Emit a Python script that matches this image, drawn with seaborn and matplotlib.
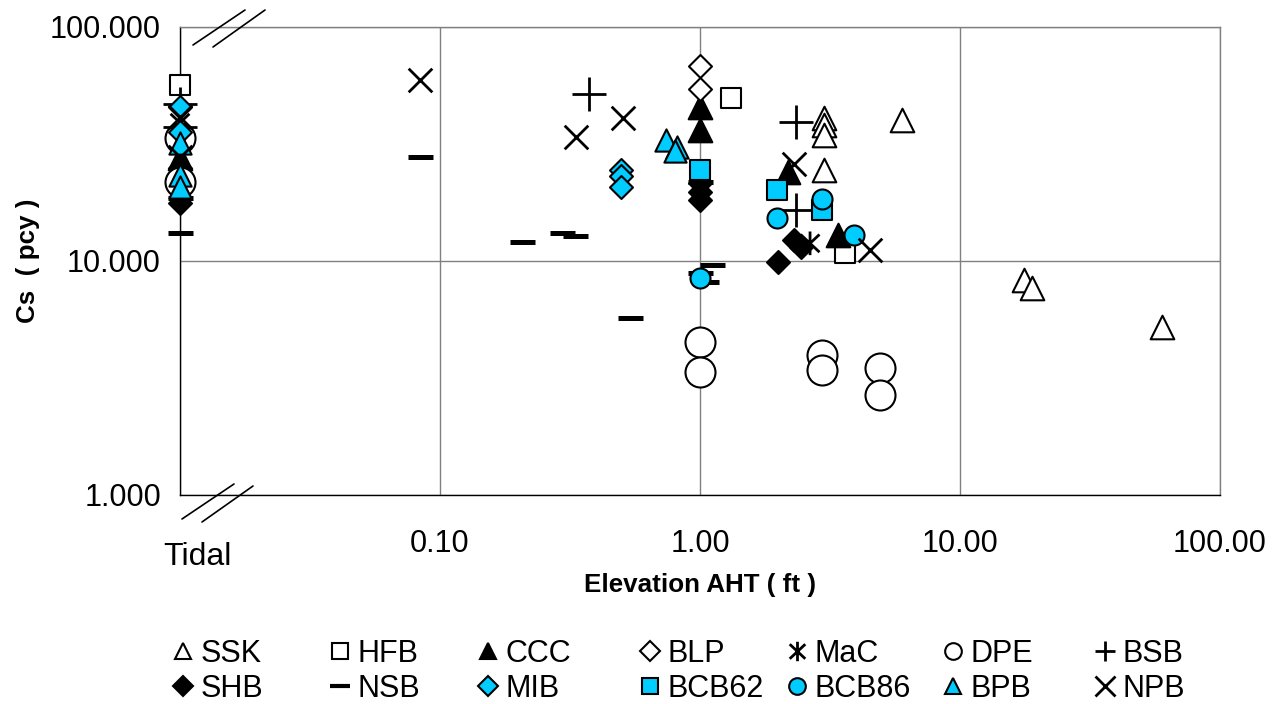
import matplotlib
matplotlib.use("Agg")
import matplotlib.pyplot as plt
import seaborn as sns
from matplotlib.lines import Line2D
from matplotlib.path import Path
from matplotlib.ticker import FixedLocator, LogLocator, NullFormatter

# tidal sites sit on the broken left edge of the axis
TIDAL = 0.01

# --- data (elevation above high tide in ft, Cs in pcy) ---
ssk_x = [3.0, 3.0, 3.0, 3.0, 6.0, 17.7, 18.9, 59.8]
ssk_y = [40.8, 38.1, 34.5, 24.5, 40.0, 8.3, 7.7, 5.2]
hfb_x = [TIDAL, 1.32, 3.6]
hfb_y = [56.5, 49.7, 10.8]
ccc_x = [TIDAL, 1.0, 1.0, 2.18, 3.4]
ccc_y = [27.5, 45.5, 36.3, 24.0, 12.9]
blp_x = [1.0, 1.0]
blp_y = [68.1, 54.3]
mac_x = [TIDAL, 2.65]
mac_y = [39.0, 11.9]
dpe_x = [TIDAL, TIDAL, 1.0, 1.0, 2.95, 2.95, 4.94, 4.94]
dpe_y = [33.6, 21.8, 4.5, 3.36, 3.97, 3.42, 3.49, 2.68]
bsb_x = [TIDAL, TIDAL, 0.373, 2.34, 2.34]
bsb_y = [46.9, 37.2, 51.7, 39.3, 16.5]
shb_x = [TIDAL, 1.0, 1.0, 1.0, 2.0, 2.3, 2.45]
shb_y = [17.7, 21.5, 19.8, 18.2, 9.9, 12.3, 11.5]
nsb_x = [TIDAL, TIDAL, 0.0834, 0.206, 0.294, 0.33, 0.537, 1.0, 1.11, 1.0, 1.05]
nsb_y = [13.2, 18.6, 27.8, 12.1, 13.2, 12.8, 5.71, 21.8, 9.6, 8.9, 8.1]
mib_x = [TIDAL, TIDAL, 0.496, 0.496, 0.496]
mib_y = [45.5, 35.5, 24.5, 23.1, 20.7]
bcb62_x = [1.0, 1.98, 2.95]
bcb62_y = [24.5, 20.1, 16.5]
bcb86_x = [1.0, 1.98, 2.95, 3.92]
bcb86_y = [8.46, 15.3, 18.4, 12.9]
bpb_x = [TIDAL, TIDAL, TIDAL, 0.74, 0.815, 0.80]
bpb_y = [31.9, 23.3, 20.7, 32.9, 30.7, 29.5]
npb_x = [TIDAL, TIDAL, 0.0834, 0.333, 0.505, 2.30, 4.52]
npb_y = [41.3, 27.8, 59.4, 33.9, 40.8, 26.0, 11.1]

xticks = [0.01, 0.1, 1, 10, 100]
xtick_labels = ["", "0.10", "1.00", "10.00", "100.00"]
yticks = [1, 10, 100]
ytick_labels = ["1.000", "10.000", "100.000"]

CYAN = "#00CCFF"
# asterisk marker (x with a vertical bar)
asterisk = Path([(0, -1), (0, 1), (-0.8, -0.75), (0.8, 0.75), (-0.8, 0.75), (0.8, -0.75)],
                [Path.MOVETO, Path.LINETO] * 3)

# name, x, y, marker, size(pt), face, filled?, linewidth, legend size
series = [
    ("SSK", ssk_x, ssk_y, "^", 17, "white", True, 1.5, 12),
    ("HFB", hfb_x, hfb_y, "s", 15, "white", True, 1.5, 12),
    ("CCC", ccc_x, ccc_y, "^", 17, "black", True, 1.5, 12),
    ("BLP", blp_x, blp_y, "D", 11.7, "white", True, 1.5, 9.7),
    ("MaC", mac_x, mac_y, asterisk, 17, "none", True, 2.0, 14),
    ("DPE", dpe_x, dpe_y, "o", 21.6, "white", True, 1.5, 12),
    ("BSB", bsb_x, bsb_y, "+", 24, "black", False, 2.0, 14),
    ("SHB", shb_x, shb_y, "D", 11.7, "black", True, 1.5, 9.7),
    ("NSB", nsb_x, nsb_y, "_", 18, "black", False, 3.6, 14),
    ("MIB", mib_x, mib_y, "D", 11.7, CYAN, True, 1.5, 9.7),
    ("BCB62", bcb62_x, bcb62_y, "s", 15, CYAN, True, 1.5, 12),
    ("BCB86", bcb86_x, bcb86_y, "o", 14.4, CYAN, True, 1.5, 12),
    ("BPB", bpb_x, bpb_y, "^", 16, CYAN, True, 1.5, 12),
    ("NPB", npb_x, npb_y, "x", 17, "black", False, 2.0, 14),
]

sns.set_style("white")
plt.rcParams["font.family"] = ["Liberation Sans", "DejaVu Sans"]
plt.rcParams["text.color"] = "black"
plt.rcParams["axes.labelcolor"] = "black"
plt.rcParams["xtick.color"] = "black"
plt.rcParams["ytick.color"] = "black"

W, H = 1276, 704
fig = plt.figure(figsize=(W / 100, H / 100), dpi=100)
ax = fig.add_axes([180 / W, 1 - 495 / H, 1040 / W, 468 / H])

handles = {}
for i, (name, xs, ys, m, ms, face, filled, lw, lms) in enumerate(series):
    kw = dict(marker=m, s=ms ** 2, linewidth=lw, clip_on=False, zorder=3 + i)
    if filled:
        kw.update(color=face, edgecolor="black")
    else:
        kw.update(color="black")
    sns.scatterplot(x=xs, y=ys, ax=ax, legend=False, **kw)
    handles[name] = Line2D([], [], linestyle="none", marker=m, markersize=lms,
                           markerfacecolor=face if filled else "black",
                           markeredgecolor="black", markeredgewidth=min(lw, 2.0) if lw < 3 else 3.0)

ax.set_xscale("log")
ax.set_yscale("log")
ax.set_xlim(0.01, 100)
ax.set_ylim(1, 100)

ax.xaxis.set_major_locator(FixedLocator(xticks))
ax.set_xticklabels(xtick_labels)
ax.yaxis.set_major_locator(FixedLocator(yticks))
ax.set_yticklabels(ytick_labels)
ax.xaxis.set_minor_locator(LogLocator(base=10, subs=range(2, 10)))
ax.yaxis.set_minor_locator(LogLocator(base=10, subs=range(2, 10)))
ax.xaxis.set_minor_formatter(NullFormatter())
ax.yaxis.set_minor_formatter(NullFormatter())

ax.tick_params(which="major", direction="inout", length=11.5, width=1, color="black",
               labelsize=22, labelcolor="black")
ax.tick_params(which="minor", direction="inout", length=8.6, width=1, color="black")
ax.tick_params(axis="y", which="major", pad=8)
ax.tick_params(axis="x", which="major", pad=19)

ax.grid(True, which="major", color="#808080", linewidth=1)
ax.grid(False, which="minor")
for side in ["left", "bottom"]:
    ax.spines[side].set_color("black")
    ax.spines[side].set_linewidth(1)
for side in ["top", "right"]:
    ax.spines[side].set_color("#808080")
    ax.spines[side].set_linewidth(1)

ax.set_xlabel("Elevation AHT ( ft )", fontsize=18.7, fontweight="bold")
ax.xaxis.set_label_coords(0.5, -(585 - 495) / 468)
ax.xaxis.label.set_va("center")
ax.set_ylabel("Cs  ( pcy )", fontsize=18.7, fontweight="bold")
ax.yaxis.set_label_coords((28 - 180) / 1040, 0.5)
ax.yaxis.label.set_va("center")

fig.text(197 / W, 1 - 557 / H, "Tidal", ha="center", va="center", fontsize=23)

# axis break marks
for (x0, y0), (x1, y1) in [((193, 45), (245, 10)), ((213, 47), (265, 10)),
                           ((182, 519), (234, 484)), ((202, 522), (253, 486))]:
    fig.add_artist(Line2D([x0 / W, x1 / W], [1 - y0 / H, 1 - y1 / H],
                          color="black", linewidth=1.2, transform=fig.transFigure))

# legend: one two-row block per column
legend_cols = [("SSK", "SHB"), ("HFB", "NSB"), ("CCC", "MIB"), ("BLP", "BCB62"),
               ("MaC", "BCB86"), ("DPE", "BPB"), ("BSB", "NPB")]
col_x = [183, 340, 488, 650, 797, 953, 1105]
for (a, b), cx in zip(legend_cols, col_x):
    fig.legend([handles[a], handles[b]], [a, b], loc="upper left",
               bbox_to_anchor=((cx - 13.7) / W, 1 - 639 / H), frameon=False,
               fontsize=22, handlelength=0.9, handletextpad=0.11, borderpad=0,
               borderaxespad=0, labelspacing=0.16)

fig.savefig("out.png", dpi=100)
